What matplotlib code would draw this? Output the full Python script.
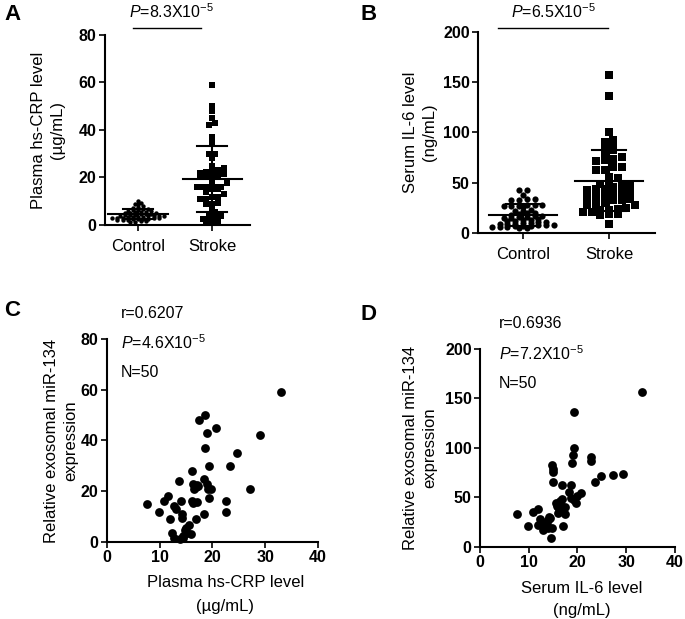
import numpy as np
import matplotlib
matplotlib.use("Agg")
import matplotlib.pyplot as plt

plt.rcParams['font.family'] = ['Liberation Sans', 'DejaVu Sans']
plt.rcParams['mathtext.fontset'] = 'custom'
plt.rcParams['mathtext.rm'] = 'Liberation Sans'
plt.rcParams['mathtext.it'] = 'Liberation Sans:italic'

# data
groups = ["Control", "Stroke"]

ctrl_crp = [10.2, 9.2, 9.0, 8.8, 7.8, 7.6, 7.0, 6.8, 6.6, 6.4, 6.2, 6.0, 5.8, 5.6, 5.5,
            5.4, 5.2, 5.0, 4.9, 4.8, 4.6, 4.5, 4.4, 4.2, 4.1, 4.0, 3.9, 3.8, 3.7, 3.6,
            3.5, 3.4, 3.3, 3.2, 3.1, 3.0, 3.0, 2.9, 2.8, 2.7, 2.6, 2.5, 2.4, 2.3, 2.2,
            2.0, 1.8, 1.6, 1.4, 1.2]
ctrl_il6 = [43, 43, 38, 34, 34, 33, 33, 28, 28, 28, 27, 27, 27, 26, 23, 22, 22, 20, 20, 19,
            18, 17, 17, 16, 16, 15, 15, 14, 13, 13, 12, 12, 11, 11, 10, 10, 9, 9, 9, 8,
            8, 8, 7, 7, 7, 6, 6, 6, 5, 5]

# panel C: hs-CRP (x) vs miR-134 (y)
crp_x = [7.5, 9.9, 10.9, 11.6, 12.0, 12.7, 13.1, 13.6, 14.0, 12.4, 12.7, 14.3, 14.2, 14.8,
         14.5, 15.2, 15.6, 15.9, 16.1, 16.4, 16.5, 16.4, 17.0, 17.3, 16.9, 17.5, 18.5, 18.9,
         18.5, 20.7, 19.4, 18.3, 19.0, 19.2, 19.8, 19.3, 18.3, 22.6, 22.6, 23.4, 24.6, 27.1,
         29.0, 33.0, 13.8, 15.0, 14.5, 16.2, 17.0, 16.8]
crp_y = [15, 12, 16, 18, 9, 14, 13, 24, 16, 3.4, 1.4, 11, 9.3, 4.7,
         1.4, 3.7, 6.7, 3.0, 28, 23, 21, 15.2, 15.9, 22, 9, 48, 50, 43,
         37, 45, 30, 25, 23, 21, 21, 17.5, 11, 16, 12, 30, 35, 21,
         42, 59, 1.0, 5.5, 2.5, 16, 22.5, 21.5]

# panel D: IL-6 (x) vs miR-134 (y)
il6_x = [33.2, 19.35, 19.35, 19.1, 18.9, 22.8, 22.8, 14.8, 14.9, 14.9, 14.9, 16.8, 18.6,
         18.3, 23.5, 24.8, 27.2, 29.3, 20.8, 20.0, 19.2, 19.7, 18.6, 16.4, 16.4, 16.1,
         17.0, 17.4, 16.1, 17.0, 7.5, 9.9, 10.8, 11.8, 12.3, 12.6, 11.9, 13.0, 13.7, 14.0,
         14.4, 14.0, 14.7, 14.6, 15.7, 13.5, 15.6, 14.2, 16.8, 17.5]
il6_y = [157, 136, 100, 93, 85, 91, 87, 83, 79, 76, 65.5, 63, 63,
         56, 66, 72, 73, 74, 55, 52, 47, 44, 49, 46, 43, 40,
         36, 33, 34, 21, 33, 21, 35, 38, 28, 24, 22.5, 17.5, 22.5, 27.5,
         29, 19, 19, 9, 41, 25, 44, 30, 48, 40]

stroke_crp = crp_y
stroke_il6 = il6_y


def swarm(vals, binh, step):
    vals = np.asarray(vals, dtype=float)
    offs = np.zeros(len(vals))
    bins = np.floor(vals / binh)
    for b in np.unique(bins):
        idx = np.where(bins == b)[0]
        idx = idx[np.argsort(vals[idx])]
        n = len(idx)
        offs[idx] = (np.arange(n) - (n - 1) / 2) * step
    return offs


def style(ax):
    for s in ["top", "right"]:
        ax.spines[s].set_visible(False)
    for s in ["left", "bottom"]:
        ax.spines[s].set_linewidth(1.5)
    ax.tick_params(direction="out", length=4, width=1.2, labelsize=11.5, pad=2)
    for lab in ax.get_yticklabels():
        lab.set_fontweight("bold")


def column_plot(ax, data, markers, sizes, binh, step, ymax, yticks):
    for i, vals in enumerate(data):
        offs = swarm(vals, binh[i], step[i])
        ax.scatter(i + offs, vals, marker=markers[i], s=sizes[i], color="black",
                   linewidths=0, clip_on=False, zorder=3)
        m, sd = np.mean(vals), np.std(vals, ddof=1)
        ax.plot([i - 0.4, i + 0.4], [m, m], color="black", lw=1.5, zorder=4)
        ax.plot([i - 0.2, i + 0.2], [m + sd, m + sd], color="black", lw=1.5, zorder=4)
        ax.plot([i - 0.2, i + 0.2], [m - sd, m - sd], color="black", lw=1.5, zorder=4)
        ax.plot([i, i], [m - sd, m + sd], color="black", lw=1.5, zorder=4)
    ax.set_ylim(0, ymax)
    ax.set_yticks(yticks)
    ax.set_xticks([0, 1])
    style(ax)
    ax.set_xticklabels(groups, fontsize=12)
    ax.tick_params(axis="x", pad=6)


fig = plt.figure(figsize=(6.85, 6.19), dpi=100)

# Panel A
axA = fig.add_axes([0.1533, 0.6365, 0.2117, 0.307])
column_plot(axA, [ctrl_crp, stroke_crp], ["o", "s"], [10, 14], [1.0, 2.2], [0.07, 0.08],
            80, [0, 20, 40, 60, 80])
axA.set_xlim(-0.446, 1.51)
axA.set_ylabel("Plasma hs-CRP level\n(µg/mL)", fontsize=12, linespacing=1.3)
axA.yaxis.set_label_coords(-0.276, 0.5)
axA.plot([-0.07, 0.85], [83, 83], color="black", lw=1, clip_on=False)
axA.text(0.45, 89.7, r"$\mathit{P}$=8.3X10$^{-5}$", ha="center", va="center", fontsize=11.5)

# Panel B
axB = fig.add_axes([0.6978, 0.6236, 0.2584, 0.3247])
column_plot(axB, [ctrl_il6, stroke_il6], ["o", "s"], [20, 26], [3.0, 7.0], [0.09, 0.1],
            200, [0, 50, 100, 150, 200])
axB.set_xlim(-0.523, 1.535)
axB.set_ylabel("Serum IL-6 level\n(ng/mL)", fontsize=12, linespacing=1.3)
axB.yaxis.set_label_coords(-0.232, 0.5)
axB.plot([-0.29, 0.99], [204, 204], color="black", lw=1, clip_on=False)
axB.text(0.36, 220, r"$\mathit{P}$=6.5X10$^{-5}$", ha="center", va="center", fontsize=11.5)

# Panel C
axC = fig.add_axes([0.1562, 0.1244, 0.308, 0.328])
axC.scatter(crp_x, crp_y, s=40, color="black", linewidths=0, clip_on=False, zorder=3)
axC.set_xlim(0, 40)
axC.set_ylim(0, 80)
axC.set_xticks([0, 10, 20, 30, 40])
axC.set_yticks([0, 20, 40, 60, 80])
style(axC)
for lab in axC.get_xticklabels():
    lab.set_fontweight("bold")
axC.set_ylabel("Relative exosomal miR-134\nexpression", fontsize=12, linespacing=1.3)
axC.yaxis.set_label_coords(-0.137, 0.5)
axC.set_xlabel("Plasma hs-CRP level\n(µg/mL)", fontsize=12, linespacing=1.75)
axC.xaxis.set_label_coords(0.56, -0.165)
axC.text(2.6, 89.9, "r=0.6207", ha="left", va="center", fontsize=11.5)
axC.text(2.6, 78.4, r"$\mathit{P}$=4.6X10$^{-5}$", ha="left", va="center", fontsize=11.5)
axC.text(2.6, 66.6, "N=50", ha="left", va="center", fontsize=11.5)

# Panel D
axD = fig.add_axes([0.7007, 0.1163, 0.2847, 0.32])
axD.scatter(il6_x, il6_y, s=40, color="black", linewidths=0, clip_on=False, zorder=3)
axD.set_xlim(0, 40)
axD.set_ylim(0, 200)
axD.set_xticks([0, 10, 20, 30, 40])
axD.set_yticks([0, 50, 100, 150, 200])
style(axD)
for lab in axD.get_xticklabels():
    lab.set_fontweight("bold")
axD.set_ylabel("Relative exosomal miR-134\nexpression", fontsize=12, linespacing=1.3)
axD.yaxis.set_label_coords(-0.22, 0.5)
axD.set_xlabel("Serum IL-6 level\n(ng/mL)", fontsize=12, linespacing=1.65)
axD.xaxis.set_label_coords(0.52, -0.17)
axD.text(3.9, 226, "r=0.6936", ha="left", va="center", fontsize=11.5)
axD.text(3.9, 195, r"$\mathit{P}$=7.2X10$^{-5}$", ha="left", va="center", fontsize=11.5)
axD.text(3.9, 165, "N=50", ha="left", va="center", fontsize=11.5)

# panel letters
for lab, x, y in [("A", 4, 20), ("B", 360, 20), ("C", 4, 316), ("D", 360, 320)]:
    fig.text(x / 685, 1 - y / 619, lab, fontsize=16, fontweight="bold", ha="left", va="baseline")

fig.savefig("out.png", dpi=100)
